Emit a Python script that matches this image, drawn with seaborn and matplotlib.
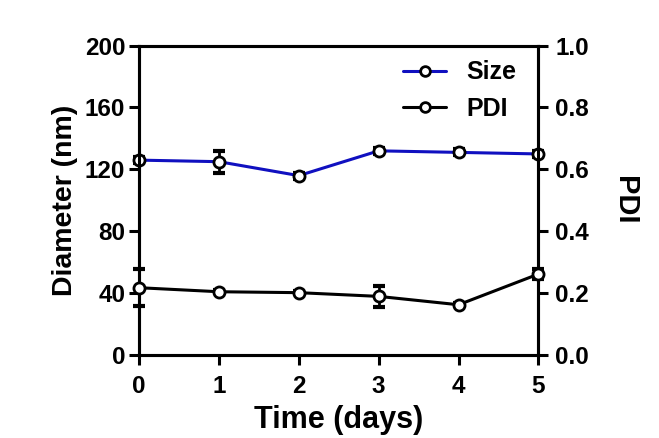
import numpy as np
import pandas as pd
import matplotlib
matplotlib.use("Agg")
import matplotlib.pyplot as plt
import seaborn as sns
from matplotlib.lines import Line2D

days = [0, 1, 2, 3, 4, 5]
size_nm = [126, 125, 116, 132, 131, 130]
size_err = [2, 7, 2, 2, 2, 2]
pdi = [0.218, 0.205, 0.202, 0.190, 0.163, 0.262]
pdi_err = [0.06, 0.005, 0.005, 0.035, 0.005, 0.015]

df = pd.DataFrame({"day": days, "size": size_nm, "size_err": size_err,
                   "pdi": pdi, "pdi_err": pdi_err})

sns.set_theme(style="white")
plt.rcParams['font.family'] = ['Liberation Sans', 'DejaVu Sans']
plt.rcParams['font.weight'] = 'bold'
plt.rcParams['text.color'] = 'black'
plt.rcParams['axes.labelcolor'] = 'black'

fig = plt.figure(figsize=(6.59, 4.38), dpi=100)
ax = fig.add_axes([0.211, 0.189, 0.606, 0.707])
ax2 = ax.twinx()

mk = dict(marker='o', markersize=8, markerfacecolor='white', markeredgewidth=2,
          clip_on=False, zorder=5)

sns.lineplot(data=df, x="day", y="size", ax=ax, color='#1010c0', lw=2.2,
             markeredgecolor='black', legend=False, **mk)
ax.errorbar(df["day"], df["size"], yerr=df["size_err"], fmt='none',
            ecolor='black', elinewidth=2, capsize=4, capthick=3, zorder=4, clip_on=False)

sns.lineplot(data=df, x="day", y="pdi", ax=ax2, color='black', lw=2.2,
             markeredgecolor='black', legend=False, **mk)
ax2.errorbar(df["day"], df["pdi"], yerr=df["pdi_err"], fmt='none',
             ecolor='black', elinewidth=2, capsize=4, capthick=3, zorder=4, clip_on=False)

ax.set_xlim(0, 5)
ax.set_ylim(0, 200)
ax2.set_ylim(0, 1.0)
ax.set_xticks(days)
ax.set_yticks([0, 40, 80, 120, 160, 200])
ax2.set_yticks([0.0, 0.2, 0.4, 0.6, 0.8, 1.0])
ax2.set_yticklabels(['0.0', '0.2', '0.4', '0.6', '0.8', '1.0'])

for a in (ax, ax2):
    for s in a.spines.values():
        s.set_linewidth(2.2)
        s.set_color('black')
    a.tick_params(axis='both', which='major', direction='out', length=7, width=2.2,
                  labelsize=17.5, colors='black', pad=3)
ax.tick_params(left=True, bottom=True)
ax.tick_params(axis='x', pad=7)
ax2.tick_params(right=True, pad=5)
for lbl in ax.get_xticklabels() + ax.get_yticklabels() + ax2.get_yticklabels():
    lbl.set_fontweight('bold')

ax.set_xlabel("Time (days)", fontsize=22, fontweight='bold', labelpad=5)
ax.set_ylabel("Diameter (nm)", fontsize=20.5, fontweight='bold', labelpad=5)
ax2.set_ylabel("PDI", fontsize=21, fontweight='bold', rotation=-90, labelpad=36)
ax.grid(False)
ax2.grid(False)

handles = [Line2D([], [], color='#1010c0', lw=2.2, marker='o', markersize=7,
                  markerfacecolor='white', markeredgecolor='black', markeredgewidth=2),
           Line2D([], [], color='black', lw=2.2, marker='o', markersize=7,
                  markerfacecolor='white', markeredgecolor='black', markeredgewidth=2)]
ax.legend(handles, ["Size", "PDI"], loc='upper right', frameon=False,
          prop={'size': 18, 'weight': 'bold'}, handlelength=1.7, handletextpad=0.8,
          bbox_to_anchor=(1.0, 1.025), labelspacing=0.5)

fig.savefig("out.png", dpi=100)
